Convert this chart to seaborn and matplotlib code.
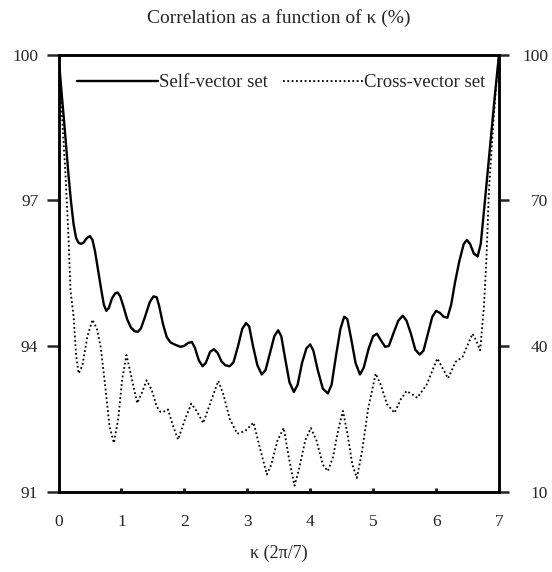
import numpy as np
import pandas as pd
import seaborn as sns
import matplotlib
matplotlib.use("Agg")
import matplotlib.pyplot as plt

# values
kappa_self = [0.00, 0.04, 0.10, 0.16, 0.20, 0.24, 0.28, 0.32, 0.36, 0.40, 0.45, 0.50,
              0.54, 0.58, 0.63, 0.68, 0.72, 0.76, 0.80, 0.85, 0.90, 0.94, 0.98, 1.03,
              1.09, 1.15, 1.21, 1.26, 1.31, 1.38, 1.45, 1.51, 1.56, 1.60, 1.66, 1.72,
              1.78, 1.86, 1.94, 2.00, 2.06, 2.12, 2.17, 2.23, 2.29, 2.34, 2.41, 2.47,
              2.53, 2.59, 2.65, 2.72, 2.78, 2.85, 2.92, 2.98, 3.03, 3.09, 3.16, 3.23,
              3.29, 3.36, 3.43, 3.49, 3.54, 3.60, 3.67, 3.74, 3.80, 3.87, 3.94, 4.00,
              4.05, 4.12, 4.20, 4.28, 4.34, 4.41, 4.48, 4.54, 4.59, 4.65, 4.72, 4.79,
              4.85, 4.93, 5.00, 5.06, 5.12, 5.19, 5.25, 5.32, 5.40, 5.47, 5.53, 5.60,
              5.67, 5.74, 5.80, 5.87, 5.94, 6.00, 6.06, 6.12, 6.18, 6.24, 6.30, 6.37,
              6.44, 6.49, 6.54, 6.60, 6.66, 6.71, 6.77, 6.85, 6.93, 7.00]
corr_self = [100.0, 99.35, 98.45, 97.5, 96.95, 96.5, 96.22, 96.12, 96.10, 96.13, 96.22, 96.26,
             96.18, 95.95, 95.55, 95.15, 94.85, 94.72, 94.78, 94.98, 95.08, 95.10, 95.02, 94.82,
             94.55, 94.38, 94.30, 94.29, 94.36, 94.62, 94.90, 95.02, 95.00, 94.82, 94.45, 94.18,
             94.07, 94.02, 93.98, 94.00, 94.06, 94.08, 93.95, 93.70, 93.58, 93.65, 93.88, 93.93,
             93.85, 93.68, 93.60, 93.58, 93.66, 93.98, 94.35, 94.47, 94.40, 94.0, 93.6, 93.41,
             93.5, 93.85, 94.2, 94.32, 94.2, 93.75, 93.25, 93.05, 93.2, 93.65, 93.95, 94.03,
             93.9, 93.5, 93.12, 93.02, 93.2, 93.8, 94.35, 94.6, 94.55, 94.15, 93.65, 93.41,
             93.55, 93.95, 94.2, 94.25, 94.12, 93.98, 94.0, 94.25, 94.52, 94.62, 94.52, 94.25,
             93.92, 93.82, 93.9, 94.25, 94.6, 94.72, 94.68, 94.6, 94.58, 94.85, 95.3, 95.75,
             96.1, 96.18, 96.1, 95.9, 95.84, 96.1, 96.9, 98.0, 99.1, 100.0]

kappa_cross = [0.00, 0.03, 0.07, 0.11, 0.16, 0.19, 0.24, 0.28, 0.32, 0.38, 0.46, 0.54,
               0.61, 0.67, 0.74, 0.81, 0.88, 0.95, 1.01, 1.08, 1.16, 1.25, 1.33, 1.40,
               1.48, 1.56, 1.62, 1.68, 1.74, 1.82, 1.90, 2.00, 2.11, 2.20, 2.30, 2.42,
               2.54, 2.62, 2.72, 2.84, 2.97, 3.10, 3.20, 3.31, 3.38, 3.48, 3.58, 3.66,
               3.75, 3.82, 3.92, 4.01, 4.10, 4.20, 4.28, 4.36, 4.45, 4.52, 4.59, 4.67,
               4.74, 4.82, 4.92, 5.04, 5.12, 5.22, 5.34, 5.44, 5.53, 5.62, 5.70, 5.85,
               6.02, 6.10, 6.19, 6.25, 6.31, 6.42, 6.58, 6.64, 6.70, 6.76, 6.80, 6.84,
               6.90, 6.95, 7.00]
corr_cross = [100, 93.5, 84, 75.6, 61.8, 51.5, 46.0, 38, 34.3, 36, 42, 45.4,
              43.5, 39.8, 32, 23.5, 20.0, 25, 33, 38.1, 33.5, 28.2, 30.5, 32.9,
              31, 27.5, 26.4, 26.5, 26.9, 23.5, 20.7, 24.5, 28.1, 26.5, 24.1, 28.5,
              32.8, 30, 25, 21.9, 22.5, 24.2, 19, 13.5, 15.5, 20.5, 23.1, 17,
              11.2, 14.5, 20.5, 23.1, 20.5, 15.5, 14.2, 17, 23, 26.6, 22, 15.5,
              12.8, 18, 27, 34.3, 32, 28, 26.2, 29, 30.7, 30, 29.3, 32,
              37.4, 35.5, 33.3, 35, 36.7, 37.7, 42.5, 41, 39.1, 48, 58, 72,
              84, 93, 100]

left_ticks = [91, 94, 97, 100]
right_ticks = [10, 40, 70, 100]
x_ticks = [0, 1, 2, 3, 4, 5, 6, 7]

self_df = pd.DataFrame({"kappa": kappa_self, "corr": corr_self})
cross_df = pd.DataFrame({"kappa": kappa_cross, "corr": corr_cross})

sns.set_style("ticks")
plt.rcParams["font.family"] = ["Liberation Serif", "DejaVu Serif"]

fig, ax = plt.subplots(figsize=(5.52, 5.72), dpi=100)
fig.subplots_adjust(left=0.106, right=0.904, top=0.9047, bottom=0.1407)
ax2 = ax.twinx()

sns.lineplot(data=self_df, x="kappa", y="corr", ax=ax, color="black",
             linewidth=1.7, label="Self-vector set", legend=False)
sns.lineplot(data=cross_df, x="kappa", y="corr", ax=ax2, color="black",
             linewidth=1.3, linestyle=(0, (1, 1.4)), label="Cross-vector set", legend=False)

ax.set_xlim(0, 7)
ax.set_ylim(91, 100)
ax2.set_ylim(10, 100)
ax.set_xticks(x_ticks)
ax.set_yticks(left_ticks)
ax2.set_yticks(right_ticks)
ax.set_xticks([0, 7], minor=True)

for a in (ax, ax2):
    for s in a.spines.values():
        s.set_linewidth(1.8)
        s.set_color("black")

ax.tick_params(axis="y", direction="out", length=8.5, width=1.8, labelsize=12.5, pad=6)
ax.tick_params(axis="x", which="major", direction="in", length=3, width=2.2,
               labelsize=12.5, pad=16.5)
ax.tick_params(axis="x", which="minor", direction="out", length=8, width=1.8)
ax2.tick_params(axis="y", direction="out", length=7.5, width=1.8, labelsize=12.5, pad=28)
for lab in ax2.get_yticklabels():
    lab.set_horizontalalignment("right")

ax.set_xlabel("κ (2π/7)", fontsize=13, labelpad=10)
ax.set_ylabel("")
ax2.set_ylabel("")
ax.set_title("Correlation as a function of κ (%)", fontsize=14, pad=23)

handles = ax.get_lines()[:1] + ax2.get_lines()[:1]
ax2.legend(handles, ["Self-vector set", "Cross-vector set"], loc="center",
           bbox_to_anchor=(0.506, 0.935), ncol=2, frameon=False, fontsize=13.5,
           handlelength=4.3, handletextpad=0.05, columnspacing=0.8)

fig.savefig("out.png", dpi=100)
